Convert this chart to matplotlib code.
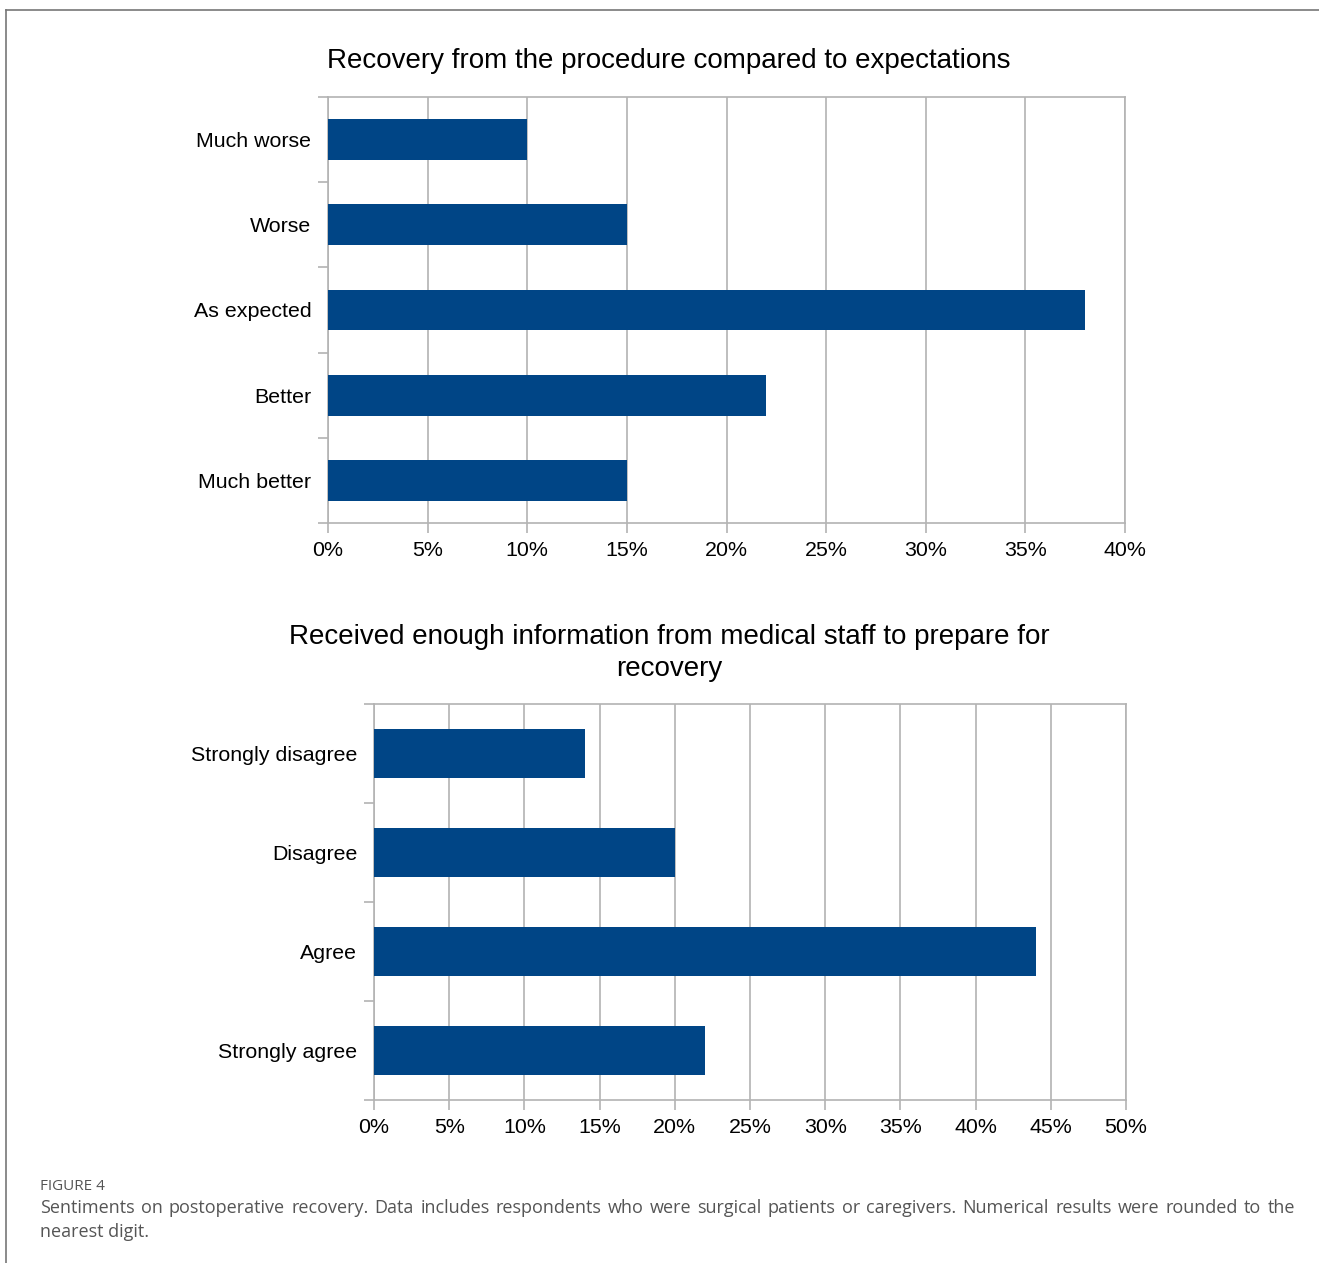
import numpy as np
import matplotlib
matplotlib.use("Agg")
import matplotlib.pyplot as plt
from matplotlib.lines import Line2D

plt.rcParams['font.family'] = ['Liberation Sans', 'DejaVu Sans']

# data
cats_top = ["Much worse", "Worse", "As expected", "Better", "Much better"]
vals_top = [10, 15, 38, 22, 15]
title_top = "Recovery from the procedure compared to expectations"

cats_bot = ["Strongly disagree", "Disagree", "Agree", "Strongly agree"]
vals_bot = [14, 20, 44, 22]
title_bot = "Received enough information from medical staff to prepare for\nrecovery"

caption_head = "FIGURE 4"
caption_line1 = ("Sentiments on postoperative recovery. Data includes respondents who were surgical "
                 "patients or caregivers. Numerical results were rounded to the")
caption_line2 = "nearest digit."

BAR = "#004586"
GRID = "#b3b3b3"
W, H = 1319, 1263

fig = plt.figure(figsize=(W / 100, H / 100), dpi=100)


def px_rect(x0, y0, x1, y1):
    return [x0 / W, 1 - y1 / H, (x1 - x0) / W, (y1 - y0) / H]


def bar_panel(ax, cats, vals, xmax, bar_h):
    n = len(cats)
    y = np.arange(n)
    ax.barh(y, vals, height=bar_h, color=BAR, zorder=3)
    ax.set_ylim(n - 0.5, -0.5)
    ax.set_xlim(0, xmax)
    ticks = np.arange(0, xmax + 1, 5)
    ax.set_xticks(ticks)
    ax.set_xticklabels([f"{t}%" for t in ticks], fontsize=15.4)
    ax.set_yticks(y)
    ax.set_yticklabels(cats, fontsize=15.4)
    ax.set_yticks(np.arange(n + 1) - 0.5, minor=True)
    ax.tick_params(axis="y", which="major", length=0, pad=12)
    ax.tick_params(axis="y", which="minor", length=7.2, color=GRID, width=1.2)
    ax.tick_params(axis="x", length=7.2, color=GRID, width=1.2, pad=6)
    ax.grid(axis="x", color=GRID, linewidth=1.2, zorder=0)
    for s in ax.spines.values():
        s.set_color(GRID)
        s.set_linewidth(1.2)
    ax.set_axisbelow(True)


ax1 = fig.add_axes(px_rect(328, 97, 1125, 523))
bar_panel(ax1, cats_top, vals_top, 40, 0.48)
fig.text(669 / W, 1 - 61 / H, title_top, ha="center", va="center", fontsize=20)

ax2 = fig.add_axes(px_rect(374, 704, 1126, 1100))
bar_panel(ax2, cats_bot, vals_bot, 50, 0.49)
fig.text(669 / W, 1 - 653 / H, title_bot, ha="center", va="center", fontsize=20,
         linespacing=1.35)

# frame lines (top and left)
fig.add_artist(Line2D([6 / W, 6 / W], [0, 1 - 10 / H], color="#777777", lw=1.2))
fig.add_artist(Line2D([6 / W, 1], [1 - 10 / H, 1 - 10 / H], color="#777777", lw=1.2))

# caption
cap_color = "#555555"
fig.text(40 / W, 1 - 1186 / H, caption_head, ha="left", va="center", fontsize=11,
         color=cap_color, family="Open Sans")

# justified first line
words = caption_line1.split(" ")
renderer = fig.canvas.get_renderer()
txts = [fig.text(0, 1 - 1208 / H, w, ha="left", va="center", fontsize=13,
                 color=cap_color, family="Open Sans") for w in words]
widths = [t.get_window_extent(renderer).width for t in txts]
left, right = 40, 1295
gap = (right - left - sum(widths)) / (len(words) - 1)
x = left
for t, w in zip(txts, widths):
    t.set_x(x / W)
    x += w + gap
fig.text(40 / W, 1 - 1232 / H, caption_line2, ha="left", va="center", fontsize=13,
         color=cap_color, family="Open Sans")

fig.savefig("out.png", dpi=100, facecolor="white")
